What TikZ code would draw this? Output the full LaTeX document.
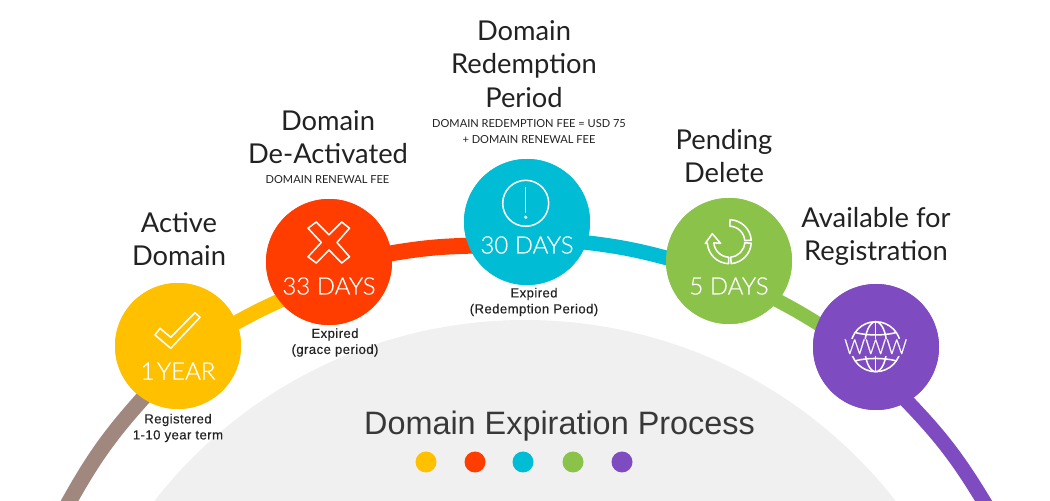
\documentclass[tikz,border=0pt]{standalone}
\usepackage{fontspec}
\newfontfamily\headfont{Lato}
\newfontfamily\dayfont[FakeBold=0.45]{Lato Light}
\newfontfamily\labelfont[LetterSpace=3,FakeBold=0.25]{Liberation Sans}
\newfontfamily\titlefont{Liberation Sans}
\definecolor{stageyellow}{HTML}{FFC000}
\definecolor{stagered}{HTML}{FF3D00}
\definecolor{stageblue}{HTML}{00BCD4}
\definecolor{stagegreen}{HTML}{8BC34A}
\definecolor{stagepurple}{HTML}{7E4BC0}
\definecolor{stagebrown}{HTML}{A1887F}
\definecolor{domegray}{HTML}{F0F0F0}
\definecolor{inkdark}{HTML}{222222}
\tikzset{
  stagecircle/.style={circle, minimum size=94.5pt, inner sep=0pt},
  segment/.style={line width=11pt, shorten <=-8pt, shorten >=-8pt},
  heading/.style={align=center, text=inkdark, font=\headfont\fontsize{20.5}{25}\selectfont},
  feenote/.style={align=center, text=inkdark, font=\headfont\fontsize{8.3}{12}\selectfont},
  termnote/.style={align=center, text=inkdark, font=\labelfont\fontsize{9.9}{12}\selectfont},
  daytext/.style={text=white, font=\dayfont\fontsize{18}{20}\selectfont},
  iconline/.style={draw=white, line width=1.15pt, line join=round},
  legenddot/.style={circle, minimum size=15.75pt, inner sep=0pt},
}
% one piece of the refresh ring, angles a to b
\newcommand{\ringpart}[2]{\draw[iconline] (#1:22) arc (#1:#2:22) -- (#2:15.5) arc (#2:#1:15.5) -- cycle;}
\begin{document}
\begin{tikzpicture}[x=0.75pt, y=0.75pt]
  \useasboundingbox (0,0) rectangle (1050,500);
  \clip (0,0) rectangle (1050,500);
  % gray dome at the bottom
  \fill[domegray] (525,-290) circle (470);
  % stages
  \node[stagecircle, fill=stageyellow] (yellow) at (178,154) {};
  \node[stagecircle, fill=stagered] (red) at (329,238) {};
  \node[stagecircle, fill=stageblue] (blue) at (527,278) {};
  \node[stagecircle, fill=stagegreen] (green) at (729,239) {};
  \node[stagecircle, fill=stagepurple] (purple) at (876,153) {};
  % free ends of the big arc
  \coordinate (arcstart) at (70,0);
  \coordinate (arcend) at (983,0);
  % arc pieces between the stages
  \draw[segment, stagebrown, line width=11.6pt] (arcstart) to[bend left=6.6] (yellow.236);
  \draw[segment, stageyellow] (yellow.22) to[bend left=2.5] (red.218);
  \draw[segment, stagered, line width=12pt] (red.8) to[bend left=4.3] (blue.202);
  \draw[segment, stageblue] (blue.-19) to[bend left=4.4] (green.177);
  \draw[segment, stagegreen, line width=10.5pt] (green.-39) to[bend left=2.4] (purple.158);
  \draw[segment, stagepurple] (purple.-60) to[bend left=6.6] (arcend);
  % circles again, over the arc ends
  \fill[stageyellow] (yellow) circle (63);
  \fill[stagered] (red) circle (63);
  \fill[stageblue] (blue) circle (63);
  \fill[stagegreen] (green) circle (63);
  \fill[stagepurple] (purple) circle (63);
  % check mark
  \begin{scope}[shift={(yellow)}]
    \draw[iconline] (-23,11) -- (-18,17.7) -- (-7.3,8.7) -- (17,33.3) -- (22,28.7) -- (-7.3,-2.3) -- cycle;
  \end{scope}
  % cross
  \begin{scope}[shift={(329,257.5)}]
    \draw[iconline] (-21,14.3) -- (-12.7,20.5) -- (0,7.7) -- (12.7,20.5) -- (20.5,14.3) -- (8,0)
      -- (20.5,-14.3) -- (12.7,-20.5) -- (0,-7.5) -- (-12.7,-20.5) -- (-21,-14.3) -- (-7.7,0) -- cycle;
  \end{scope}
  % exclamation sign
  \begin{scope}[shift={(blue)}]
    \draw[iconline] (-1.3,18.7) circle (23);
    \draw[white, line width=1.1pt] (-1.3,35) -- (-1.3,9);
    \fill[white] (-1.3,4.7) circle (1.8);
  \end{scope}
  % refresh ring
  \begin{scope}[shift={(729.3,258.3)}]
    \ringpart{88}{4}
    \ringpart{-4}{-85}
    \draw[iconline] (-92:22) arc (-92:-176:22) -- (-24,-1.7) -- (-17,8) -- (-8.7,-1.7) -- (-176:15.5)
      arc (-176:-92:15.5) -- cycle;
  \end{scope}
  % globe
  \begin{scope}[shift={(875.7,153.3)}]
    \draw[iconline] (0,0) circle (25);
    \draw[iconline] (0,0) ellipse (11 and 25);
    \draw[iconline] (0,25) -- (0,-25);
    \draw[iconline] (-20,14) .. controls (-8,11) and (8,11) .. (20,14);
    \draw[iconline] (-20,-14) .. controls (-8,-11) and (8,-11) .. (20,-14);
    \fill[stagepurple] (-30,-9) rectangle (30,8);
  \end{scope}
  \node[text=white, font=\dayfont\fontsize{15.5}{16}\selectfont, inner sep=0pt] (wwwtext) at (875.7,153.3) {WWW};
  % day counts
  \node[daytext] (yeartext) at (178,129) {1\hspace{-3pt} YEAR};
  \node[daytext] (redtext) at (329,214) {33 DAYS};
  \node[daytext] (bluetext) at (527,255) {30 DAYS};
  \node[daytext] (greentext) at (729,214) {5 DAYS};
  % headings
  \node[heading] (activehead) at (179,261) {Active\\Domain};
  \node[heading] (deactivehead) at (328,363) {Domain\\De-Activated};
  \node[heading] (redeemhead) at (524,436) {Domain\\Redemption\\Period};
  \node[heading] (pendinghead) at (724,344) {Pending\\Delete};
  \node[heading] (availhead) at (876,263.5) {Available for\\Registration};
  % fee notes
  \node[feenote] (renewfee) at (327.5,320) {DOMAIN RENEWAL FEE};
  \node[feenote] (redeemfee) at (529,368) {DOMAIN REDEMPTION FEE = USD 75\\+ DOMAIN RENEWAL FEE};
  % term notes
  \node[termnote] (termyellow) at (178,72) {Registered\\1-10 year term};
  \node[termnote] (termred) at (335,157.5) {Expired\\(grace period)};
  \node[termnote] (termblue) at (534,198) {Expired\\(Redemption Period)};
  % title and legend
  \node[text=inkdark!90, font=\titlefont\fontsize{24.3}{30}\selectfont] (title) at (559.5,74) {Domain Expiration Process};
  \node[legenddot, fill=stageyellow] (dotone) at (426,38) {};
  \node[legenddot, fill=stagered] (dottwo) at (475,38) {};
  \node[legenddot, fill=stageblue] (dotthree) at (523,38) {};
  \node[legenddot, fill=stagegreen] (dotfour) at (573,38) {};
  \node[legenddot, fill=stagepurple] (dotfive) at (622,38) {};
\end{tikzpicture}
\end{document}
